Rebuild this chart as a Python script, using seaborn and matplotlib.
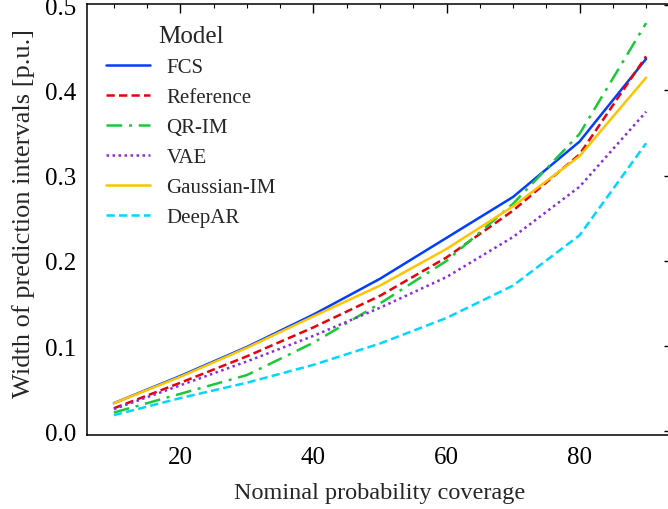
import matplotlib
matplotlib.use("Agg")
import matplotlib.pyplot as plt
from matplotlib.ticker import MultipleLocator
import seaborn as sns
import pandas as pd

coverage = [10, 20, 30, 40, 50, 60, 70, 80, 90]
fcs = [0.033, 0.065, 0.099, 0.137, 0.179, 0.227, 0.275, 0.340, 0.437]
reference = [0.027, 0.057, 0.088, 0.122, 0.159, 0.204, 0.259, 0.325, 0.440]
qr_im = [0.022, 0.044, 0.066, 0.104, 0.150, 0.200, 0.267, 0.349, 0.479]
vae = [0.026, 0.054, 0.082, 0.112, 0.145, 0.181, 0.228, 0.287, 0.375]
gaussian_im = [0.033, 0.064, 0.098, 0.135, 0.171, 0.214, 0.264, 0.323, 0.415]
deepar = [0.019, 0.039, 0.057, 0.078, 0.103, 0.133, 0.171, 0.230, 0.338]

models = ["FCS", "Reference", "QR-IM", "VAE", "Gaussian-IM", "DeepAR"]
series = [fcs, reference, qr_im, vae, gaussian_im, deepar]

rows = []
for m, vals in zip(models, series):
    for c, v in zip(coverage, vals):
        rows.append({"Model": m, "coverage": c, "width": v})
df = pd.DataFrame(rows)

sns.set_style("white")
plt.rcParams["font.family"] = ["Liberation Serif", "DejaVu Serif"]
plt.rcParams.update({
    "xtick.direction": "in", "ytick.direction": "in",
    "xtick.top": True, "ytick.right": True,
    "xtick.major.size": 6.5, "ytick.major.size": 6.5,
    "xtick.minor.size": 3, "ytick.minor.size": 3,
    "xtick.major.width": 1.0, "ytick.major.width": 1.0,
    "xtick.minor.width": 0.8, "ytick.minor.width": 0.8,
    "axes.linewidth": 1.1,
    "axes.edgecolor": "black",
    "xtick.color": "black", "ytick.color": "black",
})

bright = sns.color_palette("bright")
palette = {
    "FCS": bright[0],
    "Reference": bright[3],
    "QR-IM": bright[2],
    "VAE": bright[4],
    "Gaussian-IM": bright[8],
    "DeepAR": bright[9],
}
dashes = {
    "FCS": "",
    "Reference": (3.3, 1.7),
    "QR-IM": (6.3, 2.7, 1.2, 2.7),
    "VAE": (1, 1.4),
    "Gaussian-IM": "",
    "DeepAR": (3.3, 1.7),
}

fig = plt.figure(figsize=(6.68, 5.10), dpi=100)
ax = fig.add_axes([87.3 / 668, (510 - 435.7) / 510, 585.4 / 668, 431.2 / 510])

sns.lineplot(data=df, x="coverage", y="width", hue="Model", style="Model",
             hue_order=models, style_order=models, palette=palette,
             dashes=dashes, linewidth=1.8, ax=ax)

ax.xaxis.set_major_locator(MultipleLocator(20))
ax.xaxis.set_minor_locator(MultipleLocator(5))
ax.yaxis.set_major_locator(MultipleLocator(0.1))
ax.yaxis.set_minor_locator(MultipleLocator(0.02))
ax.tick_params(which="both", direction="in", top=True, right=True)
ax.tick_params(which="major", labelsize=18, pad=8)
ax.set_yticks([0.0, 0.1, 0.2, 0.3, 0.4, 0.5])
ax.set_yticklabels(["0.0", "0.1", "0.2", "0.3", "0.4", "0.5"])

ax.set_xlabel("Nominal probability coverage", fontsize=17.5, labelpad=10)
ax.set_ylabel("Width of prediction intervals [p.u.]", fontsize=19)
ax.yaxis.set_label_coords(-0.09, 0.515)

leg = ax.legend(title="Model", loc="upper left", frameon=False, fontsize=15,
                title_fontsize=18, handlelength=2.1, handletextpad=0.8,
                labelspacing=0.5, bbox_to_anchor=(0.0, 0.994))

fig.savefig("out.png", dpi=100)
